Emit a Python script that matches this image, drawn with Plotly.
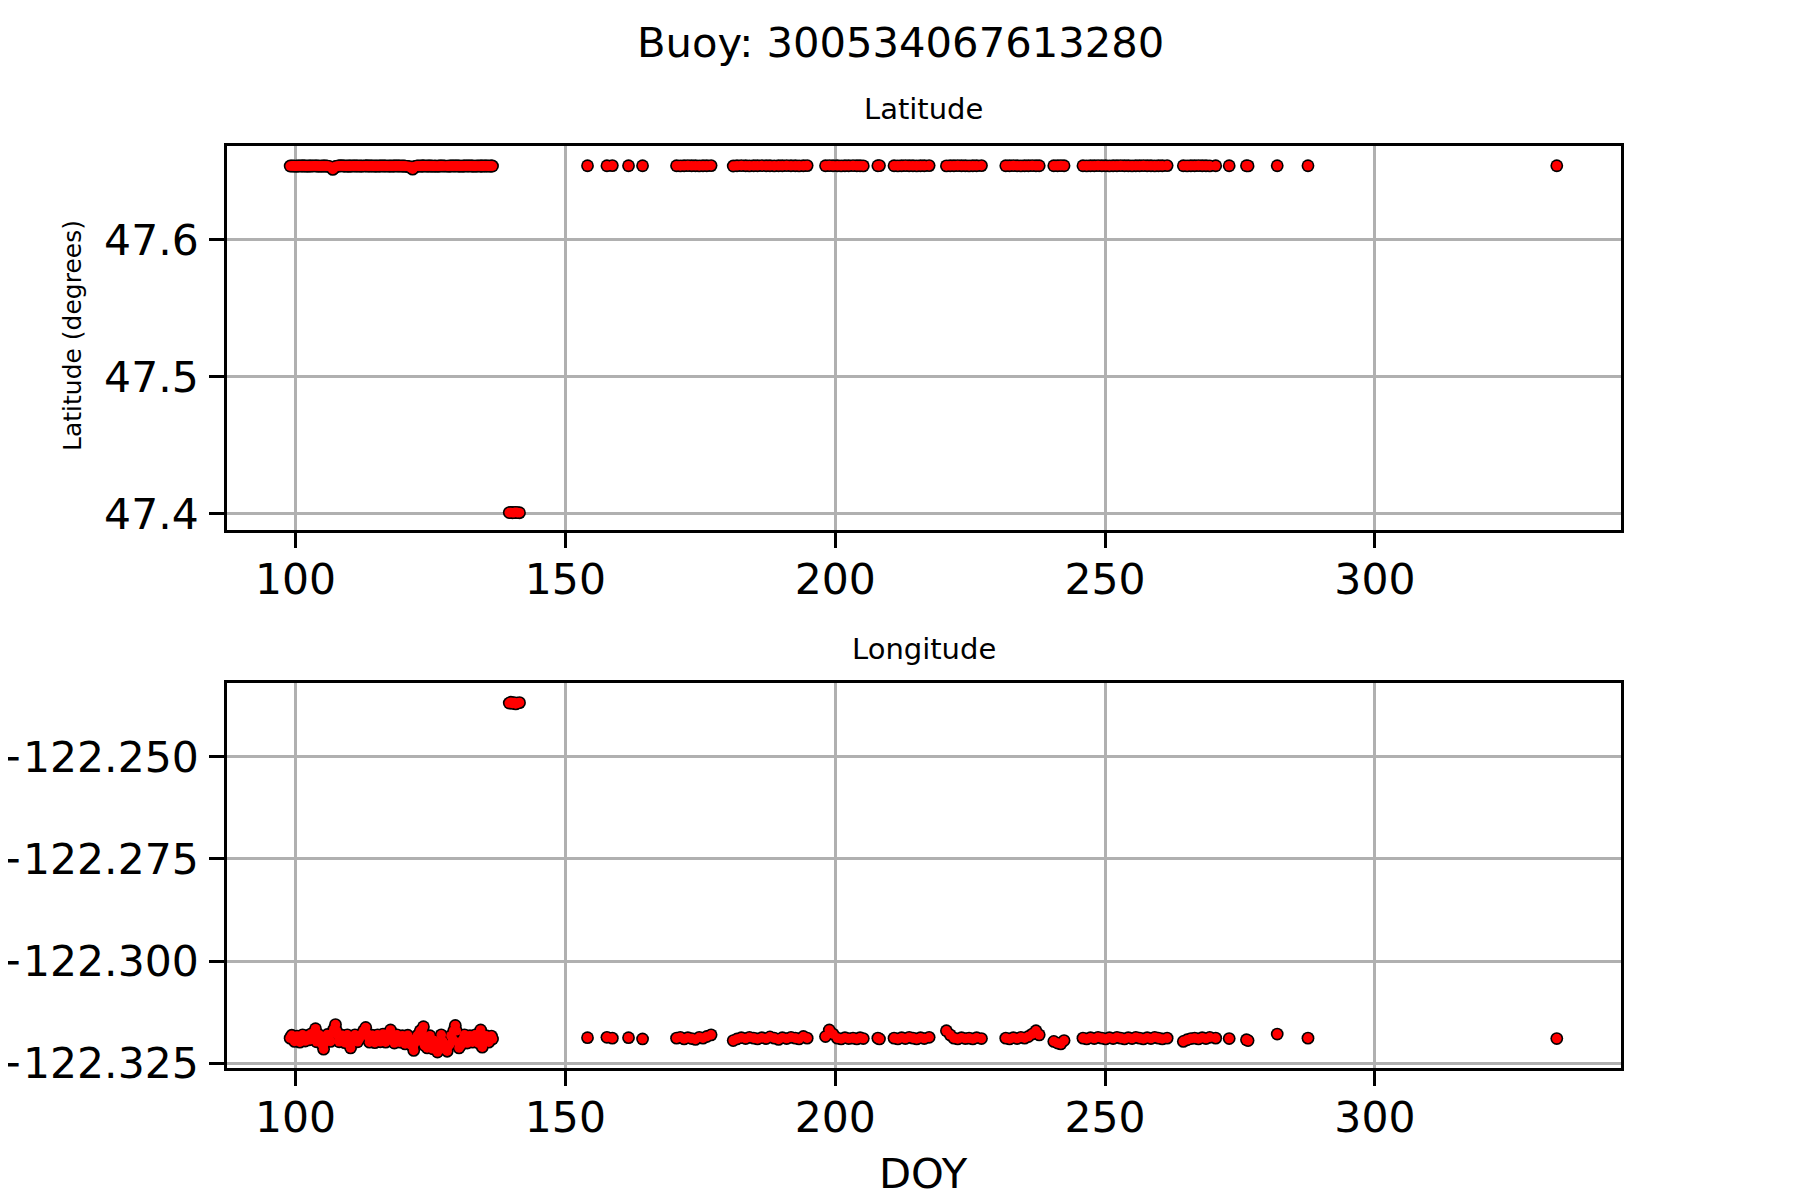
import plotly.graph_objects as go

# ---------------- data ----------------
doy_a = [99.0, 99.6, 100.1, 100.6, 101.1, 101.6, 102.1, 102.6, 103.1, 103.7, 104.2, 104.7,
         105.2, 105.7, 106.2, 106.9, 107.4, 107.9, 108.4, 108.9, 109.4, 109.9, 110.2, 110.8,
         111.3, 111.8, 112.3, 113.0, 113.5, 114.0, 114.5, 115.0, 115.5, 116.0, 116.5, 117.0,
         117.6, 118.1, 118.6, 119.1, 119.6, 120.1, 120.6, 121.1, 121.7, 121.9, 122.4, 122.9,
         123.4, 123.7, 124.2, 124.7, 125.2, 125.7, 126.3, 126.8, 127.3, 128.1, 128.6, 129.1,
         129.6, 130.1, 130.6, 131.1, 131.6, 132.1, 132.6, 133.1, 133.6, 134.3, 134.6, 135.1,
         135.6, 136.1, 136.5]
lat_a = [47.6538, 47.6539, 47.6537, 47.6538, 47.6538, 47.6540, 47.6537, 47.6538, 47.6538, 47.6539, 47.6538, 47.6537,
         47.6538, 47.6538, 47.6536, 47.6513, 47.6535, 47.6538, 47.6540, 47.6538, 47.6537, 47.6538, 47.6538, 47.6539,
         47.6538, 47.6537, 47.6538, 47.6540, 47.6538, 47.6538, 47.6537, 47.6538, 47.6538, 47.6539, 47.6538, 47.6537,
         47.6538, 47.6538, 47.6539, 47.6538, 47.6537, 47.6538, 47.6536, 47.6534, 47.6515, 47.6533, 47.6537, 47.6538,
         47.6538, 47.6539, 47.6537, 47.6538, 47.6538, 47.6537, 47.6536, 47.6538, 47.6538, 47.6537, 47.6538, 47.6539,
         47.6538, 47.6538, 47.6537, 47.6538, 47.6539, 47.6538, 47.6538, 47.6537, 47.6538, 47.6538, 47.6537, 47.6538,
         47.6539, 47.6538, 47.6538]
lon_a = [-122.3188, -122.3190, -122.3187, -122.3189, -122.3191, -122.3186, -122.3189, -122.3192, -122.3184, -122.3165, -122.3188, -122.3194,
         -122.3215, -122.3190, -122.3182, -122.3176, -122.3155, -122.3183, -122.3190, -122.3195, -122.3186, -122.3192, -122.3212, -122.3188,
         -122.3184, -122.3190, -122.3178, -122.3162, -122.3186, -122.3193, -122.3188, -122.3184, -122.3191, -122.3187, -122.3182, -122.3190,
         -122.3168, -122.3188, -122.3193, -122.3186, -122.3190, -122.3184, -122.3195, -122.3200, -122.3192, -122.3218, -122.3188, -122.3180,
         -122.3196, -122.3160, -122.3186, -122.3200, -122.3205, -122.3194, -122.3222, -122.3201, -122.3196, -122.3220, -122.3203, -122.3190,
         -122.3157, -122.3198, -122.3206, -122.3189, -122.3194, -122.3186, -122.3190, -122.3184, -122.3192, -122.3168, -122.3210, -122.3188,
         -122.3193, -122.3186, -122.3190]

# second, interleaved set of fixes in the same early period
doy_a2 = [99.3, 99.8, 100.3, 100.8, 101.3, 101.8, 102.3, 102.8, 103.4, 103.9, 104.4, 104.9,
          105.4, 105.9, 106.5, 107.1, 107.6, 108.1, 108.6, 109.1, 109.6, 110.0, 110.5, 111.0,
          111.5, 112.0, 112.6, 113.2, 113.7, 114.2, 114.7, 115.2, 115.7, 116.2, 116.7, 117.3,
          117.8, 118.3, 118.8, 119.3, 119.8, 120.3, 120.8, 121.4, 121.8, 122.1, 122.6, 123.1,
          123.5, 123.9, 124.4, 124.9, 125.4, 125.9, 126.5, 127.0, 127.6, 128.3, 128.8, 129.3,
          129.8, 130.3, 130.8, 131.3, 131.8, 132.3, 132.8, 133.3, 133.9, 134.4, 134.8, 135.3,
          135.8, 136.3]
lat_a2 = [47.6538, 47.6537, 47.6538, 47.6539, 47.6538, 47.6537, 47.6538, 47.6538, 47.6539, 47.6538, 47.6537, 47.6538,
          47.6538, 47.6537, 47.6530, 47.6520, 47.6536, 47.6538, 47.6539, 47.6538, 47.6538, 47.6537, 47.6538, 47.6538,
          47.6539, 47.6538, 47.6537, 47.6538, 47.6538, 47.6539, 47.6538, 47.6537, 47.6538, 47.6538, 47.6539, 47.6538,
          47.6537, 47.6538, 47.6538, 47.6539, 47.6538, 47.6537, 47.6535, 47.6524, 47.6520, 47.6532, 47.6538, 47.6537,
          47.6538, 47.6539, 47.6538, 47.6538, 47.6537, 47.6538, 47.6538, 47.6539, 47.6538, 47.6537, 47.6538, 47.6538,
          47.6539, 47.6538, 47.6537, 47.6538, 47.6538, 47.6539, 47.6538, 47.6537, 47.6538, 47.6538, 47.6539, 47.6538,
          47.6537, 47.6538]
lon_a2 = [-122.3181, -122.3196, -122.3183, -122.3198, -122.3180, -122.3195, -122.3182, -122.3178, -122.3174, -122.3197, -122.3180, -122.3203,
          -122.3200, -122.3179, -122.3196, -122.3166, -122.3170, -122.3197, -122.3181, -122.3199, -122.3180, -122.3205, -122.3196, -122.3180,
          -122.3197, -122.3182, -122.3170, -122.3176, -122.3198, -122.3181, -122.3199, -122.3180, -122.3197, -122.3178, -122.3198, -122.3176,
          -122.3181, -122.3200, -122.3180, -122.3198, -122.3182, -122.3202, -122.3181, -122.3205, -122.3210, -122.3200, -122.3181, -122.3170,
          -122.3168, -122.3206, -122.3212, -122.3182, -122.3214, -122.3200, -122.3210, -122.3180, -122.3215, -122.3208, -122.3182, -122.3170,
          -122.3170, -122.3212, -122.3196, -122.3180, -122.3200, -122.3182, -122.3198, -122.3180, -122.3200, -122.3176, -122.3200, -122.3182,
          -122.3198, -122.3183]

doy_b = [139.6, 139.9, 140.2, 140.5, 140.8, 141.1, 141.5]
lat_b = [47.4010, 47.4011, 47.4009, 47.4010, 47.4012, 47.4010, 47.4009]
lon_b = [-122.2369, -122.2367, -122.2370, -122.2368, -122.2371, -122.2369, -122.2368]

doy_c = [154.1, 157.7, 158.7, 161.7, 164.3,
         170.6, 171.3, 172.0, 172.7, 173.4, 174.1, 174.8, 175.5, 176.2, 177.0,
         181.1, 181.8, 182.6, 183.4, 184.1, 184.9, 185.6, 186.4, 187.2, 187.9, 188.7, 189.5, 190.2, 191.0, 191.8, 192.6, 193.3, 194.1, 194.8,
         198.2, 198.9, 199.6, 200.4, 201.1, 201.8, 202.5, 203.3, 204.0, 204.6, 205.2,
         207.9, 208.2,
         210.9, 211.6, 212.3, 213.0, 213.7, 214.4, 215.1, 215.8, 216.5, 217.4,
         220.6, 221.3, 222.0, 222.7, 223.4, 224.1, 224.8, 225.5, 226.2, 227.1,
         231.6, 232.3, 233.0, 233.7, 234.4, 235.1, 235.8, 236.5, 237.2, 237.8,
         240.5, 241.2, 241.8, 242.4,
         245.9, 246.6, 247.3, 248.0, 248.7, 249.4, 250.1, 250.8, 251.5, 252.2, 252.9, 253.6, 254.3, 255.0, 255.7, 256.4, 257.1, 257.8, 258.5, 259.2, 259.9, 260.6, 261.5,
         264.5, 265.2, 265.9, 266.6, 267.3, 268.0, 268.7, 269.4, 270.5,
         273.0, 276.2, 276.5, 281.9, 287.6, 333.7]
lat_c = [47.6540, 47.6540, 47.6541, 47.6540, 47.6540,
         47.6540, 47.6539, 47.6540, 47.6541, 47.6540, 47.6540, 47.6539, 47.6540, 47.6540, 47.6541,
         47.6538, 47.6540, 47.6541, 47.6540, 47.6539, 47.6540, 47.6540, 47.6541, 47.6540, 47.6540, 47.6539, 47.6540, 47.6540, 47.6541, 47.6540, 47.6540, 47.6539, 47.6540, 47.6541,
         47.6540, 47.6541, 47.6540, 47.6540, 47.6539, 47.6540, 47.6540, 47.6541, 47.6540, 47.6540, 47.6539,
         47.6540, 47.6541,
         47.6540, 47.6539, 47.6540, 47.6541, 47.6540, 47.6540, 47.6539, 47.6540, 47.6540, 47.6541,
         47.6539, 47.6540, 47.6540, 47.6541, 47.6540, 47.6540, 47.6539, 47.6540, 47.6540, 47.6541,
         47.6540, 47.6540, 47.6541, 47.6540, 47.6539, 47.6540, 47.6540, 47.6541, 47.6540, 47.6540,
         47.6540, 47.6540, 47.6541, 47.6540,
         47.6540, 47.6539, 47.6540, 47.6540, 47.6541, 47.6540, 47.6540, 47.6539, 47.6540, 47.6540, 47.6541, 47.6540, 47.6540, 47.6539, 47.6540, 47.6540, 47.6541, 47.6540, 47.6540, 47.6539, 47.6540, 47.6540, 47.6541,
         47.6540, 47.6539, 47.6540, 47.6540, 47.6541, 47.6540, 47.6540, 47.6539, 47.6540,
         47.6540, 47.6540, 47.6539, 47.6540, 47.6540, 47.6540]
lon_c = [-122.3187, -122.3186, -122.3188, -122.3187, -122.3190,
         -122.3188, -122.3186, -122.3190, -122.3187, -122.3189, -122.3191, -122.3186, -122.3188, -122.3184, -122.3180,
         -122.3194, -122.3190, -122.3187, -122.3189, -122.3186, -122.3188, -122.3190, -122.3187, -122.3189, -122.3185, -122.3188, -122.3191, -122.3187, -122.3189, -122.3186, -122.3188, -122.3190, -122.3184, -122.3188,
         -122.3184, -122.3168, -122.3178, -122.3188, -122.3190, -122.3187, -122.3189, -122.3188, -122.3190, -122.3187, -122.3189,
         -122.3188, -122.3190,
         -122.3188, -122.3190, -122.3187, -122.3189, -122.3186, -122.3188, -122.3190, -122.3187, -122.3189, -122.3186,
         -122.3170, -122.3180, -122.3188, -122.3190, -122.3187, -122.3189, -122.3188, -122.3190, -122.3187, -122.3189,
         -122.3188, -122.3190, -122.3187, -122.3189, -122.3186, -122.3188, -122.3184, -122.3178, -122.3170, -122.3180,
         -122.3196, -122.3200, -122.3202, -122.3194,
         -122.3188, -122.3190, -122.3187, -122.3189, -122.3186, -122.3188, -122.3190, -122.3187, -122.3189, -122.3186, -122.3188, -122.3190, -122.3187, -122.3189, -122.3186, -122.3188, -122.3190, -122.3187, -122.3189, -122.3186, -122.3188, -122.3190, -122.3188,
         -122.3196, -122.3192, -122.3189, -122.3188, -122.3190, -122.3187, -122.3189, -122.3186, -122.3188,
         -122.3189, -122.3192, -122.3194, -122.3178, -122.3188, -122.3189]

doy = doy_a + doy_a2 + doy_b + doy_c
lat = lat_a + lat_a2 + lat_b + lat_c
lon = lon_a + lon_a2 + lon_b + lon_c

title_text = "Buoy: 300534067613280"
x_ticks = [100, 150, 200, 250, 300]
lat_ticks = [47.4, 47.5, 47.6]
lon_ticks = [-122.325, -122.300, -122.275, -122.250]

# ---------------- layout helpers (page body has an 8px margin) ----------------
W, H, OFF = 1800, 1200, 8
def fx(p):
    return (p - OFF) / W
def fy(p):
    return 1 - (p - OFF) / H

FONT = "DejaVu Sans"
outline = dict(color="black", size=12.8, line=dict(width=0))
fill = dict(color="#ff0000", size=9.6, line=dict(width=0))

fig = go.Figure()
for yv, xa, ya in [(lat, "x", "y"), (lon, "x2", "y2")]:
    fig.add_trace(go.Scatter(x=doy, y=yv, mode="markers", marker=outline,
                             xaxis=xa, yaxis=ya, showlegend=False, hoverinfo="skip"))
    fig.add_trace(go.Scatter(x=doy, y=yv, mode="markers", marker=fill,
                             xaxis=xa, yaxis=ya, showlegend=False))

axis_common = dict(
    showline=True, linecolor="black", linewidth=3.3, mirror=True,
    ticks="outside", ticklen=14.6, tickwidth=3.3, tickcolor="black",
    showgrid=True, gridcolor="#b0b0b0", gridwidth=3,
    zeroline=False, automargin=False,
    tickfont=dict(family=FONT, size=42.5, color="black"),
)

xr = [87.3, 345.6]
fig.update_layout(
    width=W, height=H,
    margin=dict(l=0, r=0, t=0, b=0),
    paper_bgcolor="white", plot_bgcolor="white",
    xaxis=dict(domain=[fx(227), fx(1621)], anchor="y", range=xr, tickvals=x_ticks,
               ticklabelstandoff=-5, **axis_common),
    yaxis=dict(domain=[fy(530), fy(146)], anchor="x", range=[47.3883, 47.6684],
               tickvals=lat_ticks, ticktext=["%.1f" % v for v in lat_ticks],
               ticklabelstandoff=2, **axis_common),
    xaxis2=dict(domain=[fx(227), fx(1621)], anchor="y2", range=xr, tickvals=x_ticks,
                ticklabelstandoff=-5, **axis_common),
    yaxis2=dict(domain=[fy(1068), fy(683)], anchor="x2", range=[-122.3261, -122.2320],
                tickvals=lon_ticks,
                ticktext=["\u2212%.3f" % abs(v) for v in lon_ticks],
                ticklabelstandoff=2, **axis_common),
    annotations=[
        dict(text=title_text, x=fx(900), y=fy(42.5), xref="paper", yref="paper",
             xanchor="center", yanchor="middle", showarrow=False,
             font=dict(family=FONT, size=41.7, color="black")),
        dict(text="Latitude", x=fx(923.5), y=fy(109), xref="paper", yref="paper",
             xanchor="center", yanchor="middle", showarrow=False,
             font=dict(family=FONT, size=29, color="black")),
        dict(text="Longitude", x=fx(923.5), y=fy(649), xref="paper", yref="paper",
             xanchor="center", yanchor="middle", showarrow=False,
             font=dict(family=FONT, size=29, color="black")),
        dict(text="Latitude (degrees)", x=fx(72), y=fy(336), xref="paper", yref="paper",
             xanchor="center", yanchor="middle", showarrow=False, textangle=-90,
             font=dict(family=FONT, size=25, color="black")),
        dict(text="DOY", x=fx(923.5), y=fy(1173), xref="paper", yref="paper",
             xanchor="center", yanchor="middle", showarrow=False,
             font=dict(family=FONT, size=41.7, color="black")),
    ],
)

fig.write_html("out.html")
